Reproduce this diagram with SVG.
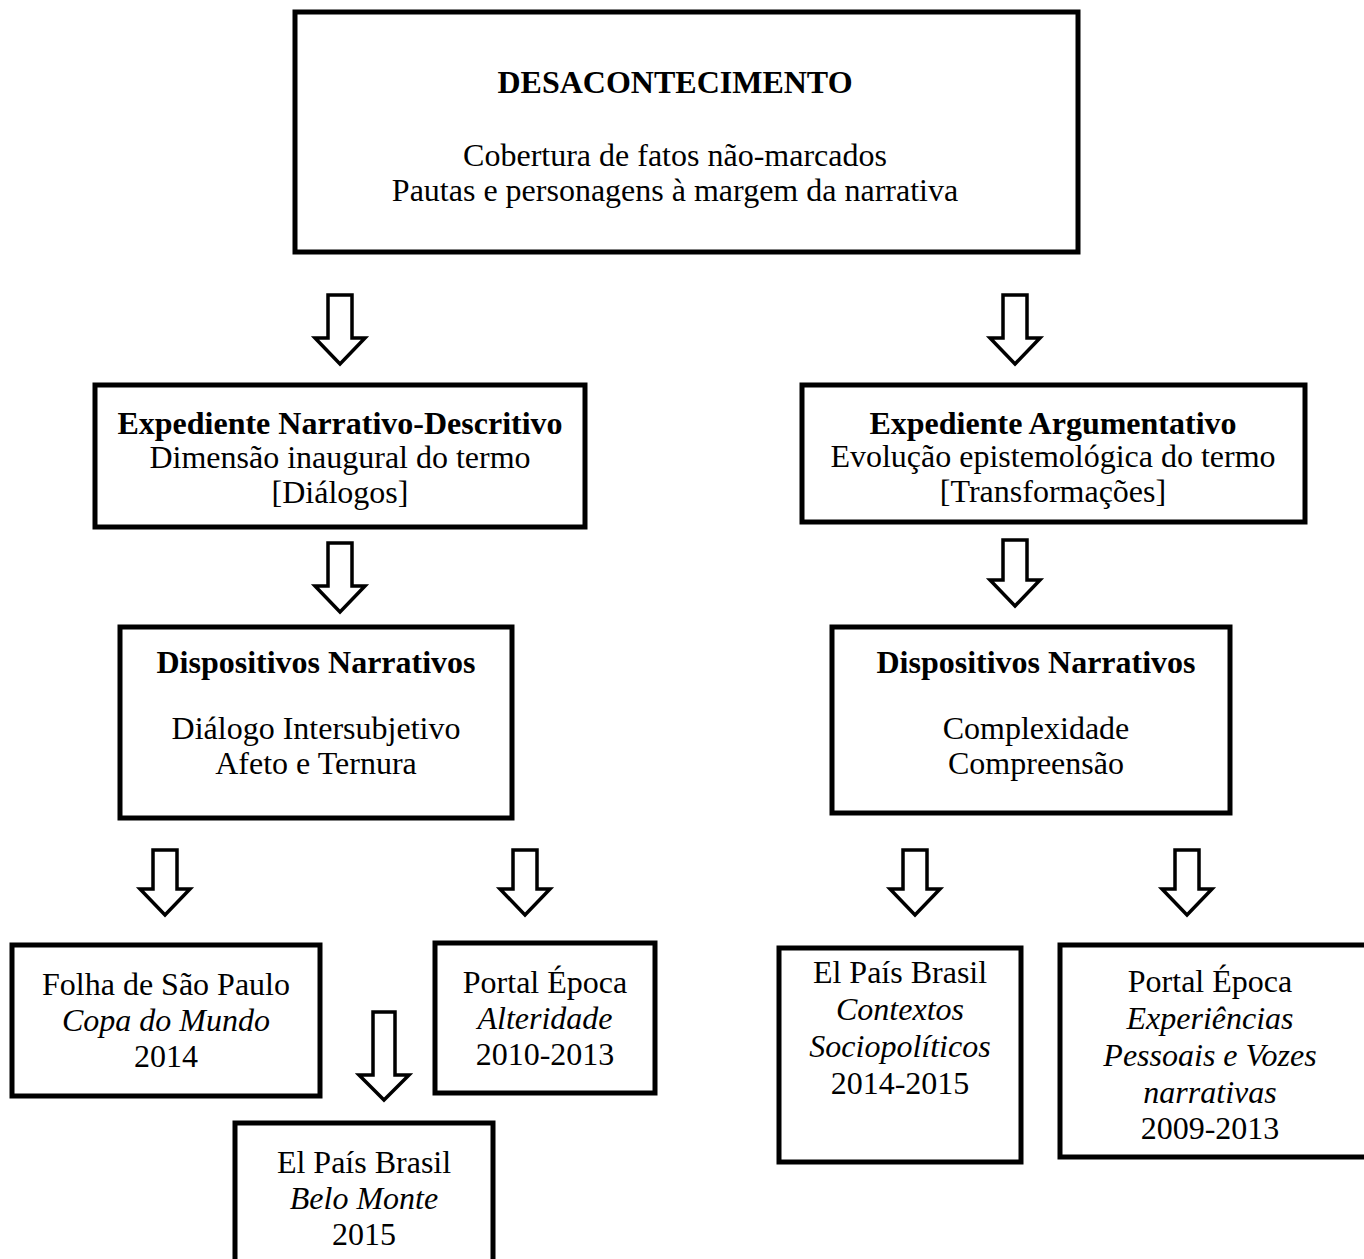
<svg xmlns="http://www.w3.org/2000/svg" width="1364" height="1259" viewBox="0 0 1364 1259">
<style>
.box{fill:#fff;stroke:#000;stroke-width:5}
.arr{fill:#fff;stroke:#000;stroke-width:3.5;stroke-linejoin:miter}
text{font-family:"Liberation Serif","Times New Roman",serif;font-size:32px;fill:#000;text-anchor:middle}
.b{font-weight:bold}
.i{font-style:italic}
</style>
<rect width="1364" height="1259" fill="#fff"/>
<g id="connectors">
<path class="arr" d="M328,295 H352 V338 H365 L340,364 L315,338 H328 Z"/>
<path class="arr" d="M1003,295 H1027 V338 H1040 L1015,364 L990,338 H1003 Z"/>
<path class="arr" d="M328,543 H352 V586 H365 L340,612 L315,586 H328 Z"/>
<path class="arr" d="M1003,540 H1027 V580 H1040 L1015,606 L990,580 H1003 Z"/>
<path class="arr" d="M153,850 H177 V889 H190 L165,915 L140,889 H153 Z"/>
<path class="arr" d="M513,850 H537 V889 H550 L525,915 L500,889 H513 Z"/>
<path class="arr" d="M903,850 H927 V889 H940 L915,915 L890,889 H903 Z"/>
<path class="arr" d="M1175,850 H1199 V889 H1212 L1187,915 L1162,889 H1175 Z"/>
<path class="arr" d="M373,1012 H395 V1075 H409 L384,1100 L359,1075 H373 Z"/>
</g>
<g id="n-top">
<rect class="box" x="295" y="12" width="783" height="240"/>
<text class="b" x="675" y="93">DESACONTECIMENTO</text>
<text x="675" y="166">Cobertura de fatos não-marcados</text>
<text x="675" y="201">Pautas e personagens à margem da narrativa</text>
</g>
<g id="n-narrativo">
<rect class="box" x="95" y="385" width="490" height="142"/>
<text class="b" x="340" y="434">Expediente Narrativo-Descritivo</text>
<text x="340" y="468">Dimensão inaugural do termo</text>
<text x="340" y="503">[Diálogos]</text>
</g>
<g id="n-argumentativo">
<rect class="box" x="802" y="385" width="503" height="137"/>
<text class="b" x="1053" y="434">Expediente Argumentativo</text>
<text x="1053" y="467">Evolução epistemológica do termo</text>
<text x="1053" y="502">[Transformações]</text>
</g>
<g id="n-disp-left">
<rect class="box" x="120" y="627" width="392" height="191"/>
<text class="b" x="316" y="673">Dispositivos Narrativos</text>
<text x="316" y="739">Diálogo Intersubjetivo</text>
<text x="316" y="774">Afeto e Ternura</text>
</g>
<g id="n-disp-right">
<rect class="box" x="832" y="627" width="398" height="186"/>
<text class="b" x="1036" y="673">Dispositivos Narrativos</text>
<text x="1036" y="739">Complexidade</text>
<text x="1036" y="774">Compreensão</text>
</g>
<g id="n-folha">
<rect class="box" x="12" y="945" width="308" height="151"/>
<text x="166" y="995">Folha de São Paulo</text>
<text class="i" x="166" y="1031">Copa do Mundo</text>
<text x="166" y="1067">2014</text>
</g>
<g id="n-alteridade">
<rect class="box" x="435" y="943" width="220" height="150"/>
<text x="545" y="993">Portal Época</text>
<text class="i" x="545" y="1029">Alteridade</text>
<text x="545" y="1065">2010-2013</text>
</g>
<g id="n-belomonte">
<rect class="box" x="235" y="1123" width="258" height="145"/>
<text x="364" y="1173">El País Brasil</text>
<text class="i" x="364" y="1209">Belo Monte</text>
<text x="364" y="1245">2015</text>
</g>
<g id="n-contextos">
<rect class="box" x="779" y="948" width="242" height="214"/>
<text x="900" y="983">El País Brasil</text>
<text class="i" x="900" y="1020">Contextos</text>
<text class="i" x="900" y="1057">Sociopolíticos</text>
<text x="900" y="1094">2014-2015</text>
</g>
<g id="n-experiencias">
<rect class="box" x="1060" y="945" width="310" height="212"/>
<text x="1210" y="992">Portal Época</text>
<text class="i" x="1210" y="1029">Experiências</text>
<text class="i" x="1210" y="1066">Pessoais e Vozes</text>
<text class="i" x="1210" y="1103">narrativas</text>
<text x="1210" y="1139">2009-2013</text>
</g>
</svg>
